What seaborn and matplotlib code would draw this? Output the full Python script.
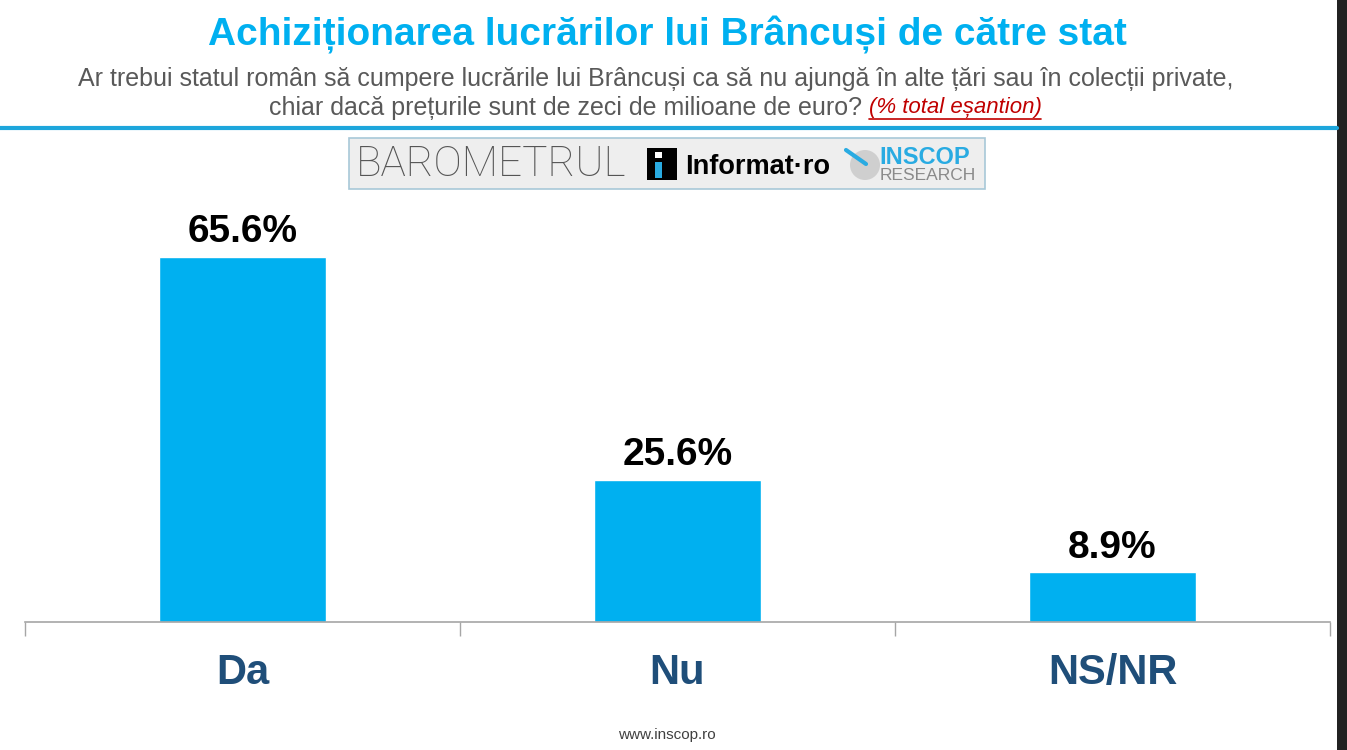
import matplotlib
matplotlib.use('Agg')
import matplotlib.pyplot as plt
import seaborn as sns
import pandas as pd
from matplotlib.patches import Rectangle, Ellipse
from matplotlib.lines import Line2D

# date
categorii = ['Da', 'Nu', 'NS/NR']
procente = [65.6, 25.6, 8.9]

titlu = 'Achiziționarea lucrărilor lui Brâncuși de către stat'
subtitlu_1 = 'Ar trebui statul român să cumpere lucrările lui Brâncuși ca să nu ajungă în alte țări sau în colecții private,'
subtitlu_2 = 'chiar dacă prețurile sunt de zeci de milioane de euro? '
nota = '(% total eșantion)'
sursa = 'www.inscop.ro'

BLUE = '#00B0F0'
NAVY = '#1F4E79'
GRAY = '#595959'
RED = '#C00000'

W, H = 1347, 750


def fx(x):
    return x / W


def fy(y):
    return 1 - y / H


sns.set_theme(style='white')
plt.rcParams['font.family'] = ['Liberation Sans', 'DejaVu Sans']

fig = plt.figure(figsize=(13.47, 7.5), dpi=100, facecolor='white')
ax = fig.add_axes([fx(25), fy(622), fx(1330) - fx(25), (622 - 195) / H])

df = pd.DataFrame({'cat': categorii, 'val': procente})
sns.barplot(data=df, x='cat', y='val', color=BLUE, saturation=1, width=0.386, ax=ax)

for i, v in enumerate(procente):
    ax.text(i, v + 1.2, f'{v:.1f}%', ha='center', va='bottom',
            fontsize=28, fontweight='bold', color='black')

ax.set_xlim(-0.5, 2.5)
ax.set_ylim(0, 427 / 5.564)
ax.set_xlabel('')
ax.set_ylabel('')
ax.set_yticks([])
for s in ['left', 'right', 'top']:
    ax.spines[s].set_visible(False)
ax.spines['bottom'].set_color('#A6A6A6')
ax.spines['bottom'].set_linewidth(1.2)
ax.set_xticks(range(len(categorii)))
ax.set_xticklabels(categorii, fontsize=30, fontweight='bold', color=NAVY)
ax.tick_params(axis='x', which='major', length=0, pad=22)
ax.set_xticks([-0.5, 0.5, 1.5, 2.5], minor=True)
ax.tick_params(axis='x', which='minor', length=10, width=1, color='#A6A6A6', bottom=True)
ax.set_facecolor('white')

# titlu si subtitlu
fig.text(fx(667), fy(35), titlu, ha='center', va='center',
         fontsize=28, fontweight='bold', color=BLUE)
fig.text(fx(656), fy(79), subtitlu_1, ha='center', va='center',
         fontsize=18, color=GRAY)

r = fig.canvas.get_renderer()
t1 = fig.text(0, fy(108), subtitlu_2, ha='left', va='center', fontsize=18, color=GRAY)
t2 = fig.text(0, fy(108), nota, ha='left', va='center', fontsize=16,
              color=RED, style='italic')
w1 = t1.get_window_extent(r).width
w2 = t2.get_window_extent(r).width
x0 = 655 - (w1 + w2) / 2
t1.set_x(fx(x0))
t2.set_x(fx(x0 + w1))
fig.add_artist(Line2D([fx(x0 + w1), fx(x0 + w1 + w2)], [fy(119), fy(119)],
                      color=RED, lw=1.2, transform=fig.transFigure))

# linie albastra
fig.add_artist(Line2D([0, fx(1337)], [fy(128), fy(128)], color='#1DA6DC', lw=3,
                      transform=fig.transFigure))

# logo barometru
fig.add_artist(Rectangle((fx(349), fy(189)), fx(985) - fx(349), (189 - 138) / H,
                         transform=fig.transFigure, facecolor='#EEEEEE',
                         edgecolor='#A8C8D8', lw=1.2))
fig.text(fx(356), fy(164), 'BAROMETRUL', ha='left', va='center', fontsize=30.5,
         color='#555555', family=['Roboto', 'Liberation Sans'], fontweight='light')
fig.add_artist(Rectangle((fx(647), fy(180)), 30 / W, 32 / H, transform=fig.transFigure,
                         facecolor='black', edgecolor='none'))
fig.add_artist(Rectangle((fx(655), fy(178)), 7 / W, 16 / H, transform=fig.transFigure,
                         facecolor='#29ABE2', edgecolor='none'))
fig.add_artist(Rectangle((fx(655), fy(158)), 7 / W, 6 / H, transform=fig.transFigure,
                         facecolor='white', edgecolor='none'))
fig.text(fx(685), fy(167), 'Informat·ro', ha='left', va='center', fontsize=19.5,
         fontweight='bold', color='black')
fig.add_artist(Ellipse((fx(865), fy(165)), 30 / W, 30 / H, transform=fig.transFigure,
                       facecolor='#CFCFCF', edgecolor='none'))
fig.add_artist(Line2D([fx(846), fx(866)], [fy(150), fy(164)], color='#29ABE2', lw=3,
                      transform=fig.transFigure))
fig.text(fx(879), fy(157), 'INSCOP', ha='left', va='center', fontsize=17,
         color='#29ABE2', fontweight='semibold')
fig.text(fx(880), fy(175), 'RESEARCH', ha='left', va='center', fontsize=12.5,
         color='#8A8A8A')

fig.text(fx(667), fy(735), sursa, ha='center', va='center', fontsize=11, color='#404040')

# banda intunecata din dreapta
fig.add_artist(Rectangle((fx(1337), 0), 10 / W, 1, transform=fig.transFigure,
                         facecolor='#222222', edgecolor='none'))

fig.savefig('out.png', dpi=100, facecolor='white')
